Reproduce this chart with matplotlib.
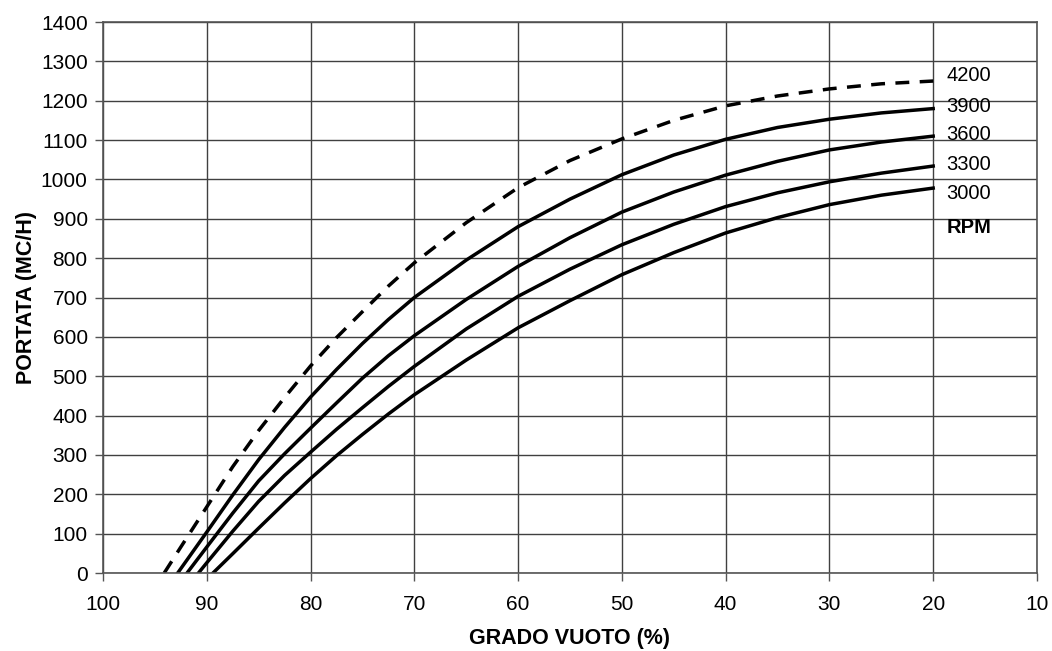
import matplotlib
matplotlib.use("Agg")
import matplotlib.pyplot as plt

plt.rcParams['font.family'] = ['Liberation Sans', 'DejaVu Sans']

# Data
x_4200 = [94.1, 92.5, 90, 87.5, 85, 82.5, 80, 77.5, 75, 72.5, 70, 65, 60, 55, 50, 45, 40, 35, 30, 25, 20]
y_4200 = [0, 66, 168, 270, 362, 446, 526, 598, 664, 729, 788, 890, 979, 1048, 1103, 1150, 1187, 1212, 1230, 1243, 1250]

x_3900 = [92.8, 90, 87.5, 85, 82.5, 80, 77.5, 75, 72.5, 70, 65, 60, 55, 50, 45, 40, 35, 30, 25, 20]
y_3900 = [0, 104, 198, 288, 370, 447, 517, 583, 644, 700, 795, 880, 950, 1012, 1062, 1102, 1132, 1153, 1169, 1180]

x_3600 = [91.9, 90, 87.5, 85, 82.5, 80, 77.5, 75, 72.5, 70, 65, 60, 55, 50, 45, 40, 35, 30, 25, 20]
y_3600 = [0, 66, 152, 234, 303, 368, 432, 495, 552, 603, 695, 779, 852, 917, 968, 1011, 1046, 1075, 1095, 1110]

x_3300 = [90.8, 90, 87.5, 85, 82.5, 80, 77.5, 75, 72.5, 70, 65, 60, 55, 50, 45, 40, 35, 30, 25, 20]
y_3300 = [0, 26, 106, 182, 248, 307, 365, 420, 474, 525, 620, 703, 772, 834, 886, 931, 966, 994, 1016, 1034]

x_3000 = [89.4, 87.5, 85, 82.5, 80, 77.5, 75, 72.5, 70, 65, 60, 55, 50, 45, 40, 35, 30, 25, 20]
y_3000 = [0, 49, 114, 178, 240, 298, 352, 404, 453, 541, 623, 692, 758, 814, 864, 903, 936, 960, 978]

rpm_labels = ["4200", "3900", "3600", "3300", "3000"]
label_y = [1263, 1186, 1115, 1037, 963]

x_ticks = [100, 90, 80, 70, 60, 50, 40, 30, 20, 10]
y_ticks = list(range(0, 1401, 100))

fig = plt.figure(figsize=(10.52, 6.51), dpi=100)
ax = fig.add_axes([0.0979, 0.1198, 0.8878, 0.8464])

ax.plot(x_4200, y_4200, color='black', lw=2.5, dashes=(4, 3), solid_capstyle='butt')
for xs, ys in [(x_3900, y_3900), (x_3600, y_3600), (x_3300, y_3300), (x_3000, y_3000)]:
    ax.plot(xs, ys, color='black', lw=2.5, solid_joinstyle='round')

for lab, yy in zip(rpm_labels, label_y):
    ax.text(18.7, yy, lab, fontsize=14.5, va='center', ha='left')
ax.text(18.7, 879, "RPM", fontsize=14.5, va='center', ha='left', fontweight='bold')

ax.set_xlim(100, 10)
ax.set_ylim(0, 1400)
ax.set_xticks(x_ticks)
ax.set_yticks(y_ticks)
ax.tick_params(axis='both', labelsize=15, direction='out', length=6, width=1, color='#555555')
ax.tick_params(axis='x', pad=10)
ax.tick_params(axis='y', pad=5)
ax.grid(True, color='#404040', lw=1)
ax.set_axisbelow(True)
for s in ax.spines.values():
    s.set_color('#555555')
    s.set_linewidth(1.2)

ax.set_xlabel("GRADO VUOTO (%)", fontsize=15.5, fontweight='bold', labelpad=10)
ax.set_ylabel("PORTATA (MC/H)", fontsize=15.5, fontweight='bold', labelpad=3)

fig.savefig("out.png", dpi=100)
